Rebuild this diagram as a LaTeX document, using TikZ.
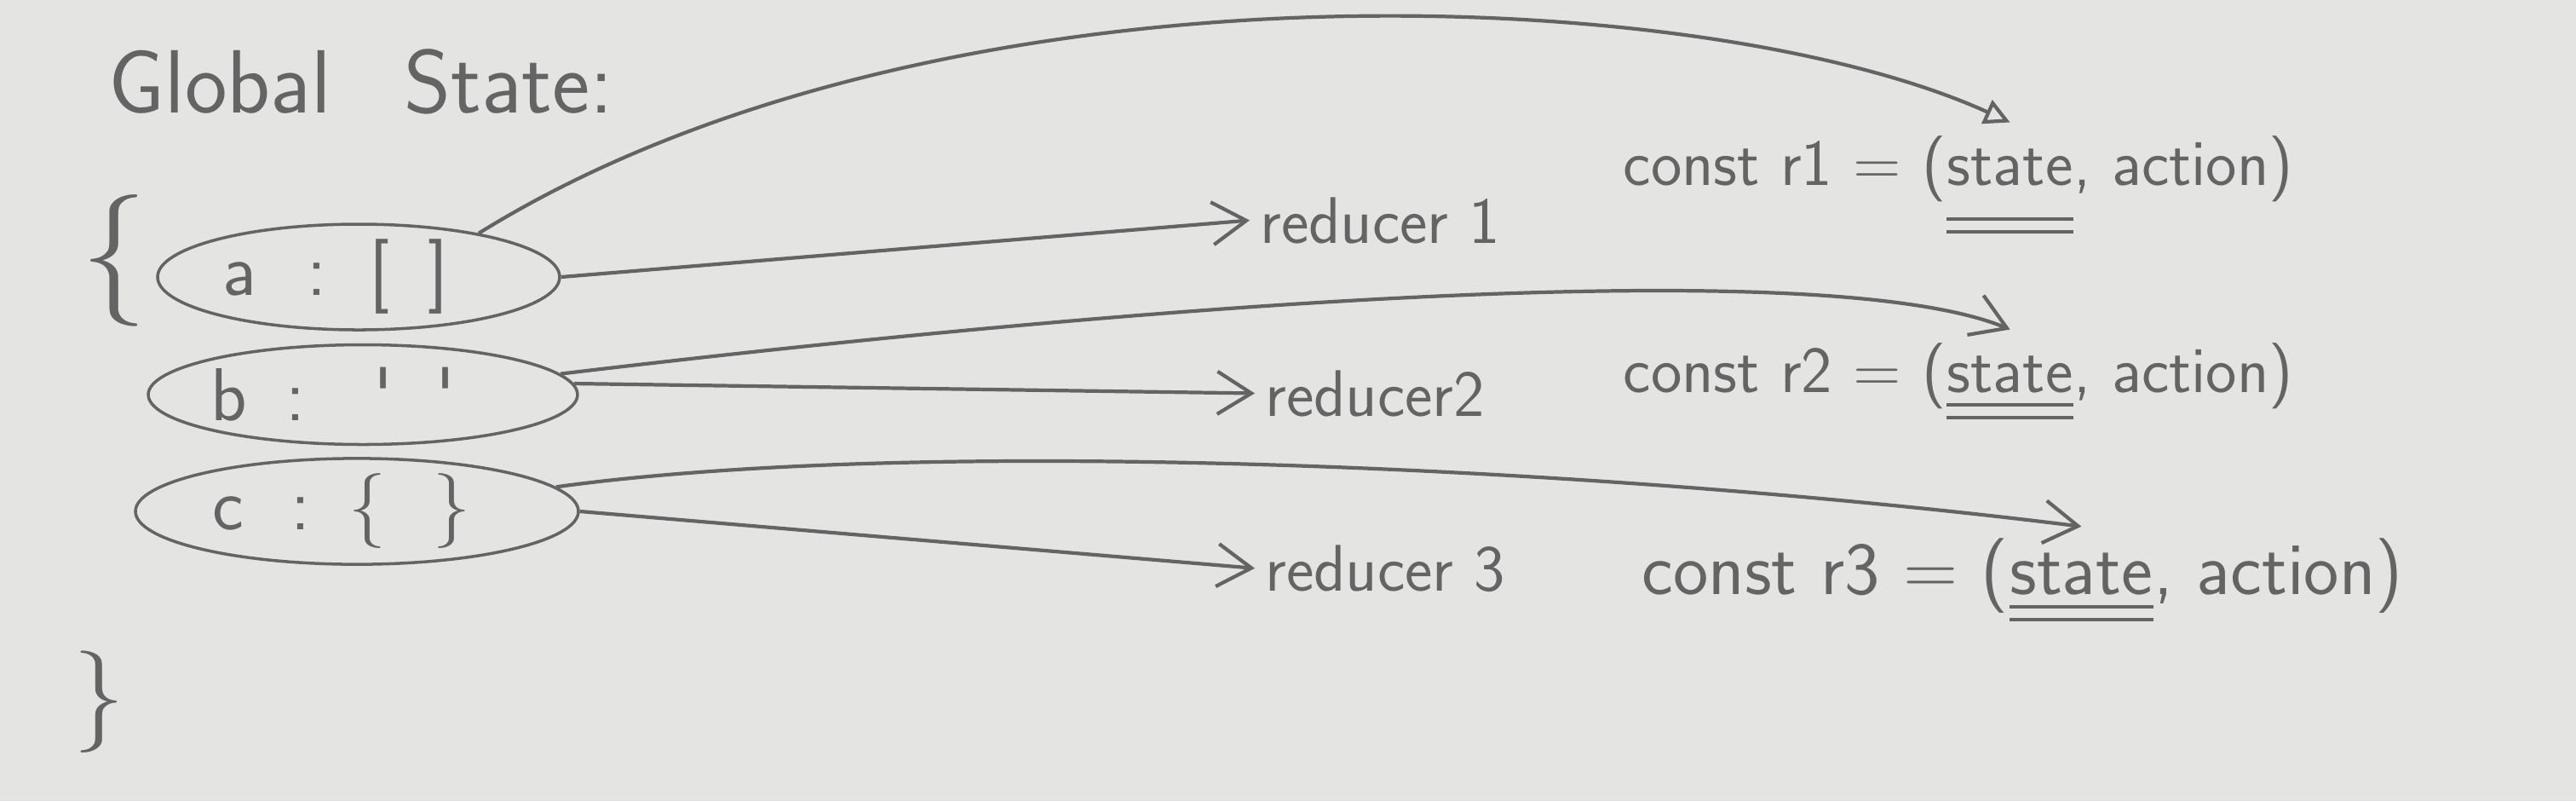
\documentclass[tikz,border=0pt]{standalone}
\usetikzlibrary{positioning, shapes.geometric, arrows.meta, calc}
\definecolor{paper}{RGB}{228,229,227}
\definecolor{pencil}{RGB}{100,100,100}

\begin{document}
\begin{tikzpicture}[y=-1cm,
	hand/.style={font=\sffamily\fontsize{22}{24}\selectfont, text=pencil},
	field/.style={ellipse, draw=pencil, line width=1pt, inner sep=0pt, font=\sffamily\fontsize{25}{27}\selectfont, text=pencil},
	word/.style={hand, inner sep=0pt, anchor=base west},
	link/.style={draw=pencil, line width=1.2pt, -{Straight Barb[length=4mm,width=5mm]}},
	dbl/.style={draw=pencil, line width=1.2pt}]
	\fill[paper] (0,0) rectangle (30.24,9.4);
	\useasboundingbox (0,0) rectangle (30.24,9.4);

	\node[hand, anchor=base west, font=\sffamily\fontsize{30}{32}\selectfont] (title) at (1.15,1.32) {Global\enspace\ State:};
	\node[hand, font=\sffamily\fontsize{44}{46}\selectfont] (open) at (1.34,3.06) {\{};
	\node[hand, font=\sffamily\fontsize{34}{36}\selectfont] (close) at (1.16,8.24) {\}};

	\node[field, minimum width=4.72cm, minimum height=1.23cm] (ea) at (4.21,3.25) {a\hspace{0.6cm}:\hspace{0.5cm}[\hspace{0.45cm}]\kern0.54cm};
	\node[field, minimum width=4.94cm, minimum height=1.17cm] (eb) at (4.26,4.63) {b\hspace{0.45cm}:\hspace{0.8cm}\textquotesingle\hspace{0.5cm}\textquotesingle\kern0.7cm};
	\node[field, minimum width=5.20cm, minimum height=1.20cm] (ec) at (4.19,6.00) {c\hspace{0.55cm}:\hspace{0.45cm}\{\hspace{0.55cm}\}\kern0.36cm};

	\node[hand, anchor=base west] (r1) at (14.67,2.85) {reducer 1};
	\node[hand, anchor=base west] (r2) at (14.73,4.88) {reducer2};
	\node[hand, anchor=base west] (r3) at (14.73,6.93) {reducer 3};

	\node[word] (c1) at (19.05,2.17) {const r1 = (};
	\node[word] (s1) at (c1.base east) {state};
	\node[word] (a1) at (s1.base east) {, action)};
	\node[word] (c2) at (19.05,4.60) {const r2 = (};
	\node[word] (s2) at (c2.base east) {state};
	\node[word] (a2) at (s2.base east) {, action)};
	\node[word, font=\sffamily\fontsize{25}{27}\selectfont] (c3) at (19.27,6.97) {const r3 = (};
	\node[word, font=\sffamily\fontsize{25}{27}\selectfont] (s3) at (c3.base east) {state};
	\node[word, font=\sffamily\fontsize{25}{27}\selectfont] (a3) at (s3.base east) {, action)};

	\draw[link] (ea.east) -- (r1.west);
	\draw[link] (eb.3) -- (r2.west);
	\draw[link] (ec.east) -- (r3.west);
	\draw[link, -{Triangle[open,length=3mm,width=3mm]}] (ea.20) .. controls (11,-0.6) and (20,-0.2) .. ([yshift=3mm]s1.north);
	\draw[link] (eb.6) .. controls (14,3.5) and (21.5,3.0) .. ([yshift=3mm]s2.north);
	\draw[link] (ec.7) .. controls (11,5.1) and (19,5.5) .. ([yshift=3mm]s3.north);

	\foreach \s/\d in {s1/4mm, s2/1.5mm, s3/1.5mm}
		\draw[dbl] ([yshift=-\d]\s.base west) -- ([yshift=-\d]\s.base east)
			([yshift=-\d-1.5mm]\s.base west) -- ([yshift=-\d-1.5mm]\s.base east);
\end{tikzpicture}
\end{document}
